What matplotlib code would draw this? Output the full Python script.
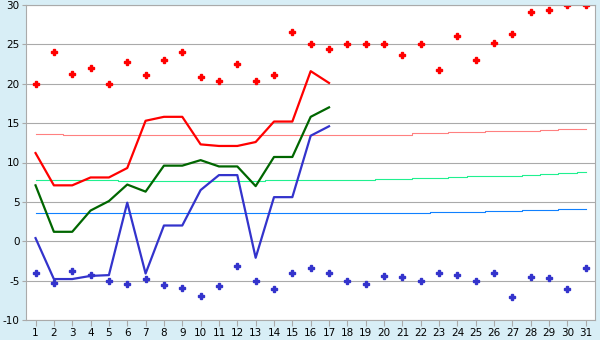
import matplotlib
matplotlib.use("Agg")
import matplotlib.pyplot as plt
import numpy as np

plt.rcParams["axes.unicode_minus"] = False

days = list(range(1, 32))

# record highs / lows per day
rec_high = [20.0, 24.0, 21.2, 22.0, 20.0, 22.8, 21.1, 23.0, 24.0, 20.9,
            20.3, 22.5, 20.3, 21.1, 26.6, 25.0, 24.4, 25.0, 25.0, 25.0,
            23.6, 25.0, 21.7, 26.1, 23.0, 25.2, 26.3, 29.1, 29.4, 30.0, 30.0]
rec_low = [-4.0, -5.3, -3.8, -4.3, -5.0, -5.4, -4.8, -5.5, -5.9, -7.0,
           -5.7, -3.2, -5.0, -6.0, -4.0, -3.4, -4.0, -5.0, -5.4, -4.4,
           -4.6, -5.0, -4.0, -4.3, -5.0, -4.0, -7.1, -4.6, -4.7, -6.0, -3.4]

# observed values (days 1-17)
obs_days = list(range(1, 18))
t_max = [11.2, 7.1, 7.1, 8.1, 8.1, 9.3, 15.3, 15.8, 15.8, 12.3,
         12.1, 12.1, 12.6, 15.2, 15.2, 21.6, 20.1]
t_mean = [7.1, 1.2, 1.2, 3.9, 5.1, 7.2, 6.3, 9.6, 9.6, 10.3,
          9.5, 9.5, 7.0, 10.7, 10.7, 15.8, 17.0]
t_min = [0.4, -4.8, -4.8, -4.4, -4.3, 4.9, -4.1, 2.0, 2.0, 6.5,
         8.4, 8.4, -2.1, 5.6, 5.6, 13.4, 14.6]

# long-term normals
norm_max = [13.6, 13.6] + [13.5] * 19 + [13.7, 13.7, 13.85, 13.85,
            14.0, 14.0, 14.0, 14.1, 14.2, 14.2]
norm_mean = [7.8] * 5 + [7.7] * 8 + [7.8] * 6 + [7.9, 7.9, 8.05, 8.05,
             8.2, 8.3, 8.3, 8.3, 8.45, 8.6, 8.7, 8.85]
norm_min = [3.6] * 22 + [3.7] * 3 + [3.85] * 2 + [4.0] * 2 + [4.1] * 2

fig = plt.figure(figsize=(6, 3.4), dpi=100, facecolor="#d8eef6")
ax = fig.add_axes([26 / 600, 20 / 340, 569 / 600, 315 / 340])
ax.set_facecolor("white")

ax.plot(days, norm_max, color="#ff8080", lw=0.8, drawstyle="steps-mid")
ax.plot(days, norm_mean, color="#20f090", lw=0.8, drawstyle="steps-mid")
ax.plot(days, norm_min, color="#1080ff", lw=0.8, drawstyle="steps-mid")

ax.plot(obs_days, t_max, color="#ff0000", lw=1.6)
ax.plot(obs_days, t_mean, color="#006600", lw=1.6)
ax.plot(obs_days, t_min, color="#3333cc", lw=1.6)

ax.plot(days, rec_high, ls="none", marker="P", ms=4, color="#ff0000")
ax.plot(days, rec_low, ls="none", marker="P", ms=4, color="#3333cc")

ax.set_xlim(0.48, 31.5)
ax.set_ylim(-10, 30)
ax.set_xticks(days)
ax.set_yticks(np.arange(-10, 31, 5))
ax.grid(axis="y", color="#aaaaaa", lw=0.8)
ax.set_axisbelow(True)
for s in ax.spines.values():
    s.set_color("#aaaaaa")
    s.set_linewidth(0.8)
ax.tick_params(colors="#aaaaaa", labelcolor="black", labelsize=7.5,
               length=4, width=0.8, pad=2)
ax.tick_params(axis="y", length=3, pad=1.5)

fig.savefig("out.png", dpi=100, facecolor=fig.get_facecolor())
